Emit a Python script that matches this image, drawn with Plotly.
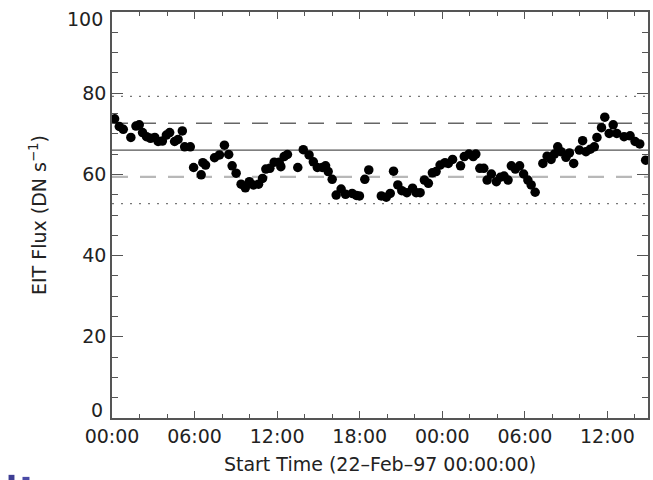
import plotly.graph_objects as go

# EIT flux time series, hours since 22-Feb-97 00:00:00
hours = [0.19, 0.53, 0.82, 1.37, 1.74, 1.98, 2.22, 2.51, 2.80, 3.11, 3.35, 3.66, 3.95, 4.19,
         4.55, 4.80, 5.11, 5.28, 5.69, 5.93, 6.48, 6.60, 6.80, 7.45, 7.81, 8.17, 8.48, 8.73,
         9.02, 9.38, 9.69, 9.98, 10.27, 10.65, 10.94, 11.18, 11.47, 11.79, 12.15, 12.27, 12.51,
         12.75, 13.50, 13.90, 14.32, 14.63, 14.92, 15.28, 15.52, 15.71, 16.00, 16.29, 16.65,
         16.97, 17.45, 17.76, 17.98, 18.37, 18.66, 19.57, 19.93, 20.22, 20.46, 20.77, 21.06,
         21.43, 21.84, 22.10, 22.39, 22.70, 22.99, 23.28, 23.55, 23.84, 24.20, 24.44, 24.75,
         25.33, 25.60, 25.94, 26.25, 26.44, 26.73, 27.02, 27.26, 27.57, 27.93, 28.22, 28.49,
         28.78, 29.02, 29.31, 29.62, 29.91, 30.22, 30.46, 30.75, 31.31, 31.62, 31.91, 32.15,
         32.39, 32.63, 32.99, 33.24, 33.55, 33.96, 34.20, 34.44, 34.76, 35.05, 35.24, 35.57,
         35.81, 36.13, 36.42, 36.68, 37.21, 37.65, 38.01, 38.35, 38.78]
flux = [73.7, 71.8, 71.1, 69.1, 71.9, 72.2, 70.3, 69.3, 68.9, 69.1, 68.1, 68.2, 69.7, 70.3,
        68.1, 68.6, 70.7, 66.8, 66.8, 61.7, 59.9, 62.9, 62.3, 64.1, 64.8, 67.2, 64.9, 62.1,
        60.3, 57.6, 56.7, 58.2, 57.4, 57.6, 59.0, 61.3, 61.5, 63.0, 63.0, 61.9, 64.4,
        64.9, 61.7, 66.1, 64.8, 63.1, 61.7, 61.7, 62.1, 60.7, 58.8, 54.9, 56.4,
        55.1, 55.3, 54.8, 54.7, 58.8, 61.1, 54.7, 54.4, 55.3, 60.8, 57.4, 56.0,
        55.5, 56.6, 55.5, 55.5, 58.6, 57.8, 60.4, 60.7, 62.3, 62.9, 62.7, 63.7,
        62.1, 64.4, 65.0, 64.4, 65.0, 61.5, 61.5, 58.6, 60.1, 58.2, 59.3, 59.6,
        58.6, 62.1, 61.3, 62.1, 60.1, 58.6, 57.4, 55.6, 62.7, 64.5, 63.7, 65.0,
        66.8, 65.6, 64.2, 65.3, 62.7, 66.0, 68.3, 65.6, 66.2, 66.8, 69.1, 71.5,
        74.1, 70.1, 72.2, 70.1, 69.3, 69.5, 68.1, 67.5, 63.5]

# Reference levels: mean, +/- 1 sigma, +/- 2 sigma
mean_flux = 66.0
sigma_flux = 6.6

tick_hours = [0, 6, 12, 18, 24, 30, 36]
tick_text = ["00:00", "06:00", "12:00", "18:00", "00:00", "06:00", "12:00"]
flux_ticks = [0, 20, 40, 60, 80, 100]
x_title = "Start Time (22\u2013Feb\u201397 00:00:00)"
y_title = "EIT Flux (DN s<sup>\u22121</sup>)"

font_family = "DejaVu Sans"
text_color = "#222222"
axis_color = "#555555"
label_font = dict(family=font_family, size=19, color=text_color)

fig = go.Figure()
fig.add_trace(go.Scatter(
    x=hours, y=flux, mode="markers",
    marker=dict(color="black", size=9.5, line=dict(width=0)),
    showlegend=False, hoverinfo="x+y",
))

def hline(y, color, width, dash):
    fig.add_shape(type="line", xref="x domain", yref="y", x0=0, x1=1, y0=y, y1=y,
                  line=dict(color=color, width=width, dash=dash), layer="below")

hline(mean_flux, "#555555", 1.3, "solid")
hline(mean_flux + sigma_flux, "#666666", 1.3, "16px,12px")
hline(mean_flux - sigma_flux, "#b8b8b8", 2.2, "16px,12px")
hline(mean_flux + 2 * sigma_flux, "#777777", 1.3, "2px,7px")
hline(mean_flux - 2 * sigma_flux, "#777777", 1.3, "2px,7px")

# small blue marks at the lower-left page corner
for (x0, x1, y0, y1, c) in [(-0.193, -0.182, -0.140, -0.153, "#3e3e94"),
                            (-0.167, -0.154, -0.145, -0.153, "#4a4aa6")]:
    fig.add_shape(type="rect", xref="paper", yref="paper", x0=x0, x1=x1, y0=y0, y1=y1,
                  line=dict(width=0), fillcolor=c)

# end labels of the flux axis are pulled inside the axis span
y_ticktext = [str(v) for v in flux_ticks]
end_shift = {flux_ticks[0]: 8, flux_ticks[-1]: -7}
for v, shift in end_shift.items():
    idx = flux_ticks.index(v)
    fig.add_annotation(x=0, xref="x domain", y=v, yref="y", text=y_ticktext[idx],
                       showarrow=False, xanchor="right", yanchor="middle",
                       xshift=-7, yshift=shift, font=label_font)
    y_ticktext[idx] = ""

fig.update_xaxes(
    range=[0, 38.95], tickvals=tick_hours, ticktext=tick_text,
    ticks="inside", ticklen=7, tickwidth=1.3, tickcolor=axis_color,
    minor=dict(dtick=2, tick0=0, ticks="inside", ticklen=4, tickwidth=1.3, tickcolor=axis_color),
    showline=True, linecolor=axis_color, linewidth=1.5, mirror="ticks",
    showgrid=False, zeroline=False,
    tickfont=label_font,
    title=dict(text=x_title, font=label_font, standoff=12),
)
fig.update_yaxes(
    range=[0, 100], tickvals=flux_ticks, ticktext=y_ticktext,
    ticks="inside", ticklen=11, tickwidth=1.3, tickcolor=axis_color,
    minor=dict(dtick=5, tick0=0, ticks="inside", ticklen=6, tickwidth=1.3, tickcolor=axis_color),
    showline=True, linecolor=axis_color, linewidth=1.5, mirror="ticks",
    showgrid=False, zeroline=False,
    tickfont=label_font,
    title=dict(text=y_title, font=label_font, standoff=31),
)

fig.update_layout(
    width=653, height=480,
    margin=dict(l=112, r=3, t=12, b=62),
    plot_bgcolor="white", paper_bgcolor="white",
)

fig.write_html("out.html")
